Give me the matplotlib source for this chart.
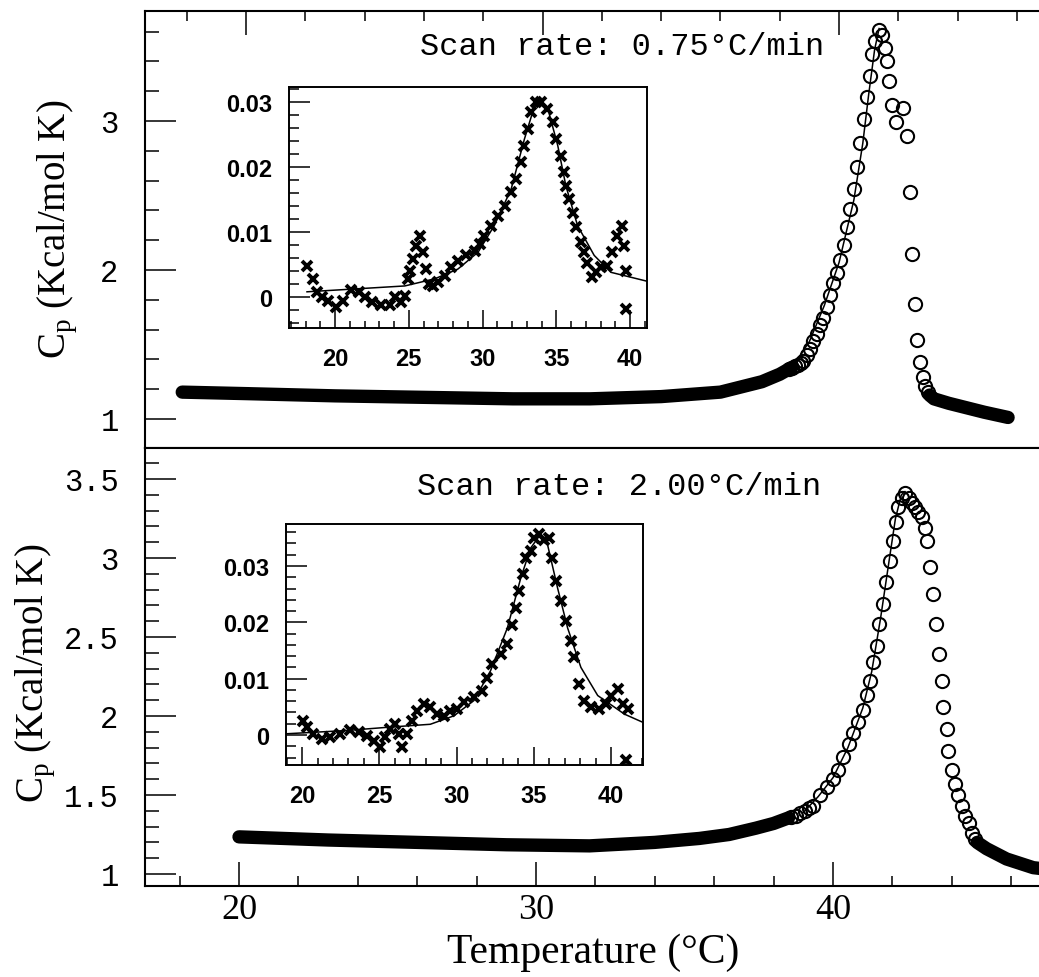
import matplotlib
matplotlib.use('Agg')
import matplotlib.pyplot as plt
from matplotlib.ticker import MultipleLocator

plt.rcParams['mathtext.fontset'] = 'custom'
plt.rcParams['mathtext.rm'] = 'Liberation Serif'

# ---- main panel, 0.75 C/min: dense baseline band and separate circles ----
top_band_T = [17.85, 20.0, 23.0, 26.0, 29.0, 31.6, 34.0, 36.0, 37.4, 38.0, 38.4]
top_band_cp = [1.18, 1.17, 1.155, 1.145, 1.135, 1.135, 1.15, 1.18, 1.25, 1.30, 1.345]
top_T = [38.3, 38.4, 38.5, 38.6, 38.7,
         38.8, 38.91, 39.02, 39.13, 39.24, 39.36, 39.47, 39.58, 39.69, 39.8, 39.92,
         40.03, 40.15, 40.26, 40.37, 40.5, 40.6, 40.7, 40.84, 40.93, 41.05, 41.1,
         41.21, 41.33, 41.44, 41.55, 41.62, 41.69, 41.8, 42.16, 41.93, 42.3, 42.4,
         42.45, 42.56, 42.62, 42.73, 42.84, 42.9, 43.01]
top_cp = [1.335, 1.345, 1.355, 1.365, 1.375,
          1.39, 1.43, 1.47, 1.52, 1.57, 1.63, 1.68, 1.75, 1.83, 1.91, 1.98,
          2.07, 2.17, 2.29, 2.41, 2.54, 2.69, 2.85, 3.01, 3.16, 3.30, 3.45,
          3.54, 3.61, 3.58, 3.49, 3.40, 3.27, 3.11, 3.09, 2.99, 2.90, 2.52,
          2.11, 1.77, 1.53, 1.38, 1.28, 1.22, 1.18]
top_tail_T = [43.05, 43.2, 43.7, 44.3, 44.9, 45.7]
top_tail_cp = [1.16, 1.135, 1.105, 1.075, 1.045, 1.01]
top_fit_T = [38.5, 39.0, 39.5, 40.0, 40.5, 40.8, 41.0, 41.2, 41.35]
top_fit_cp = [1.37, 1.52, 1.76, 2.05, 2.47, 2.85, 3.18, 3.48, 3.62]

# ---- main panel, 2.00 C/min ----
bot_band_T = [20.0, 23.0, 26.0, 29.0, 31.8, 34.0, 35.5, 36.5, 37.4, 38.0, 38.5]
bot_band_cp = [1.235, 1.215, 1.20, 1.185, 1.178, 1.20, 1.225, 1.25, 1.29, 1.32, 1.355]
bot_T = [38.6, 38.75, 38.9, 39.05, 39.2,
         39.34, 39.56, 39.79, 40.01, 40.18, 40.35, 40.52, 40.68, 40.85, 41.02, 41.13,
         41.25, 41.36, 41.47, 41.56, 41.69, 41.78, 41.9, 42.03, 42.12, 42.2, 42.31,
         42.42, 42.54, 42.65, 42.76, 42.87, 42.99, 43.1, 43.16, 43.27, 43.38, 43.47,
         43.55, 43.66, 43.71, 43.82, 43.88, 43.99, 44.11, 44.22, 44.33, 44.44, 44.56,
         44.67, 44.78]
bot_cp = [1.36, 1.37, 1.385, 1.40, 1.415,
          1.43, 1.50, 1.55, 1.60, 1.66, 1.74, 1.82, 1.89, 1.96, 2.04, 2.13,
          2.22, 2.34, 2.44, 2.58, 2.71, 2.85, 2.98, 3.11, 3.23, 3.32, 3.38,
          3.41, 3.38, 3.35, 3.32, 3.29, 3.26, 3.19, 3.11, 2.94, 2.77, 2.58,
          2.39, 2.22, 2.06, 1.92, 1.78, 1.66, 1.57, 1.50, 1.43, 1.37, 1.32,
          1.26, 1.22]
bot_tail_T = [44.85, 45.17, 45.84, 46.74, 47.2]
bot_tail_cp = [1.20, 1.16, 1.095, 1.04, 1.03]
bot_fit_T = [39.0, 39.5, 40.0, 40.5, 41.0, 41.3, 41.6, 41.9, 42.1, 42.3, 42.42]
bot_fit_cp = [1.39, 1.49, 1.61, 1.80, 2.05, 2.28, 2.62, 3.00, 3.25, 3.40, 3.42]

# ---- inset, 0.75 C/min ----
in1_T = [18.09, 18.53, 18.76, 19.1, 19.55, 20.1, 20.56, 21.1, 21.6, 22.0, 22.5, 23.15,
         23.7, 24.05, 24.5, 24.73, 24.95, 25.07, 25.3, 25.5, 25.75, 25.97, 26.2, 26.4,
         26.64, 26.98, 27.43, 27.88, 28.33, 28.9, 29.46, 29.8, 30.13, 30.6, 31.03,
         31.5, 31.94, 32.28, 32.6, 32.84, 33.06, 33.3, 33.63, 33.97, 34.4, 34.75,
         34.97, 35.3, 35.5, 35.65, 35.88, 36.1, 36.33, 36.67, 36.9, 37.1, 37.45,
         37.68, 38.0, 38.47, 38.8, 39.14, 39.48, 39.6, 39.7, 39.7]
in1_v = [0.0048, 0.0028, 0.0007, 0.0, -0.0006, -0.0016, -0.0006, 0.001, 0.0007, 0.0,
         -0.0008, -0.0013, -0.0013, 0.0, -0.0008, 0.0002, 0.0028, 0.004, 0.0058, 0.0079,
         0.0094, 0.0069, 0.0043, 0.002, 0.0017, 0.0023, 0.0033, 0.0046, 0.0056, 0.0064,
         0.0071, 0.0082, 0.0094, 0.011, 0.0125, 0.014, 0.0161, 0.0182, 0.0207, 0.0233,
         0.0258, 0.0284, 0.030, 0.030, 0.0289, 0.0269, 0.0243, 0.0217, 0.0192, 0.0171,
         0.0151, 0.013, 0.0107, 0.0084, 0.0069, 0.0053, 0.003, 0.0038, 0.0046, 0.0048,
         0.0069, 0.0094, 0.011, 0.0079, 0.004, -0.0018]
in1_fit_T = [18.1, 24.73, 26.76, 28.33, 29.7, 30.8, 31.94, 32.84, 33.5, 33.85, 34.4,
             35.1, 35.65, 36.44, 37.57, 38.7, 41.2]
in1_fit_v = [0.0008, 0.0017, 0.0028, 0.0043, 0.0069, 0.011, 0.0166, 0.0243, 0.0292,
             0.030, 0.0292, 0.0233, 0.0171, 0.011, 0.0064, 0.0038, 0.0024]

# ---- inset, 2.00 C/min ----
in2_T = [20.08, 20.3, 20.73, 21.28, 21.8, 22.47, 23.1, 23.66, 24.2, 24.63, 25.06, 25.4,
         25.7, 26.0, 26.25, 26.47, 26.8, 27.12, 27.45, 27.88, 28.3, 28.75, 29.17, 29.6,
         30.05, 30.47, 31.12, 31.67, 31.99, 32.32, 32.86, 33.29, 33.62, 33.83, 34.05,
         34.27, 34.48, 34.8, 35.02, 35.35, 35.67, 36.0, 36.2, 36.43, 36.75, 37.08,
         37.4, 37.62, 37.94, 38.27, 38.7, 39.24, 39.68, 40.0, 40.44, 40.76, 41.08, 40.97]
in2_v = [0.0025, 0.0014, 0.0002, -0.0007, -0.0004, 0.0002, 0.0008, 0.0005, -0.0001,
         -0.001, -0.0022, -0.0004, 0.0011, 0.0019, 0.0002, -0.0022, 0.0002, 0.0025,
         0.0043, 0.0055, 0.0049, 0.0037, 0.0034, 0.0043, 0.0046, 0.0058, 0.0067, 0.0078,
         0.0102, 0.0126, 0.0143, 0.0161, 0.0196, 0.0226, 0.0255, 0.0285, 0.0315, 0.0326,
         0.035, 0.0356, 0.0347, 0.035, 0.0315, 0.0273, 0.0238, 0.0202, 0.0167, 0.0138,
         0.009, 0.0061, 0.0049, 0.0046, 0.0055, 0.007, 0.0081, 0.0055, 0.0046, -0.0045]
in2_fit_T = [18.9, 22.9, 25.7, 28.3, 29.83, 31.12, 32.2, 33.29, 34.16, 34.8, 35.35,
             35.89, 36.54, 37.19, 38.05, 39.14, 40.87, 42.1]
in2_fit_v = [0.0002, 0.0008, 0.0014, 0.0019, 0.0034, 0.0061, 0.0114, 0.019, 0.0279,
             0.0332, 0.0353, 0.0338, 0.0261, 0.019, 0.012, 0.007, 0.0037, 0.0022]

inset_ticks = [20, 25, 30, 35, 40]
inset_yticks = [0, 0.01, 0.02, 0.03]
inset_ylabels = ['0', '0.01', '0.02', '0.03']

W, H = 1039, 978
fig = plt.figure(figsize=(W / 100, H / 100), dpi=100)

ax1 = fig.add_axes([145 / W, 1 - 449 / H, 896 / W, 437 / H])
ax2 = fig.add_axes([145 / W, 1 - 887 / H, 896 / W, 438 / H])


def style_main(ax, top):
    for s in ax.spines.values():
        s.set_linewidth(1.5)
    ax.spines['right'].set_visible(False)
    ax.xaxis.set_minor_locator(MultipleLocator(2))
    ax.tick_params(which='both', direction='in', width=1.1, left=True, right=False,
                   top=top, bottom=not top, labelbottom=not top, labeltop=False)
    ax.tick_params(which='major', length=17)
    ax.tick_params(which='minor', length=7)
    ax.tick_params(axis='y', which='major', length=22, pad=19, labelsize=22)
    ax.tick_params(axis='y', which='minor', length=10)
    ax.tick_params(axis='x', labelsize=26, pad=5)
    for lab in ax.get_yticklabels():
        lab.set_fontfamily('Liberation Mono')
    for lab in ax.get_xticklabels():
        lab.set_fontfamily('Liberation Serif')


circ = dict(ls='none', marker='o', ms=9.5, mfc='none', mec='black', mew=1.5)

# top panel
ax1.plot(top_band_T, top_band_cp, color='black', lw=9.6, solid_capstyle='round')
ax1.plot(top_tail_T, top_tail_cp, color='black', lw=9.6, solid_capstyle='round')
ax1.plot(top_T, top_cp, **circ)
ax1.plot(top_fit_T, top_fit_cp, color='black', lw=1.1)
ax1.set_xlim(16.594, 46.81)
ax1.set_ylim(0.805, 3.738)
ax1.set_xticks([20, 30, 40])
ax1.set_yticks([1, 2, 3])
ax1.set_yticklabels(['1', '2', '3'])
ax1.yaxis.set_minor_locator(MultipleLocator(0.2))
style_main(ax1, True)
ax1.text(0.532, 0.92, 'Scan rate: 0.75°C/min', transform=ax1.transAxes,
         ha='center', va='center', fontsize=23, family='Liberation Mono')

# bottom panel
ax2.plot(bot_band_T, bot_band_cp, color='black', lw=9.6, solid_capstyle='round')
ax2.plot(bot_tail_T, bot_tail_cp, color='black', lw=9.6, solid_capstyle='round')
ax2.plot(bot_T, bot_cp, **circ)
ax2.plot(bot_fit_T, bot_fit_cp, color='black', lw=1.1)
ax2.set_xlim(16.835, 47.0)
ax2.set_ylim(0.924, 3.696)
ax2.set_yticks([1, 1.5, 2, 2.5, 3, 3.5])
ax2.set_yticklabels(['1', '1.5', '2', '2.5', '3', '3.5'])
ax2.yaxis.set_minor_locator(MultipleLocator(0.1))
ax2.set_xticks([20, 30, 40])
ax2.set_xticklabels(['20', '30', '40'])
style_main(ax2, False)
ax2.text(0.529, 0.913, 'Scan rate: 2.00°C/min', transform=ax2.transAxes,
         ha='center', va='center', fontsize=23, family='Liberation Mono')
ax2.set_xlabel('Temperature (°C)', fontsize=30, family='Liberation Serif', labelpad=5)

fig.text(57 / W, 1 - 229 / H, 'C$_\\mathrm{p}$ (Kcal/mol K)', rotation=90,
         ha='center', va='center', fontsize=28, family='Liberation Serif')
fig.text(35 / W, 1 - 673 / H, 'C$_\\mathrm{p}$ (Kcal/mol K)', rotation=90,
         ha='center', va='center', fontsize=28, family='Liberation Serif')

# insets
in1 = fig.add_axes([289 / W, 1 - 329 / H, 358 / W, 241 / H])
in2 = fig.add_axes([286 / W, 1 - 766 / H, 357 / W, 241 / H])


def style_inset(ax):
    for s in ax.spines.values():
        s.set_linewidth(1.4)
    ax.set_xticks(inset_ticks)
    ax.set_xticklabels([str(t) for t in inset_ticks])
    ax.set_yticks(inset_yticks)
    ax.set_yticklabels(inset_ylabels)
    ax.xaxis.set_minor_locator(MultipleLocator(1))
    ax.yaxis.set_minor_locator(MultipleLocator(0.002))
    ax.tick_params(which='both', direction='in', width=1.1, top=False, right=False)
    ax.tick_params(axis='y', which='major', length=15, pad=12)
    ax.tick_params(axis='y', which='minor', length=7)
    ax.tick_params(axis='x', which='major', length=13, pad=14)
    ax.tick_params(axis='x', which='minor', length=5)
    ax.tick_params(labelsize=17)
    for lab in ax.get_xticklabels() + ax.get_yticklabels():
        lab.set_fontfamily('Liberation Sans')
        lab.set_fontweight('bold')


xmk = dict(ls='none', marker='x', ms=7.5, mec='black', mew=2.8)

in1.plot(in1_T, in1_v, **xmk)
in1.plot(in1_fit_T, in1_fit_v, color='black', lw=1.1)
in1.set_xlim(16.88, 41.15)
in1.set_ylim(-0.00477, 0.03231)
style_inset(in1)

in2.plot(in2_T, in2_v, **xmk)
in2.plot(in2_fit_T, in2_fit_v, color='black', lw=1.1)
in2.set_xlim(18.96, 42.07)
in2.set_ylim(-0.00533, 0.03746)
style_inset(in2)

fig.savefig('out.png', dpi=100)
